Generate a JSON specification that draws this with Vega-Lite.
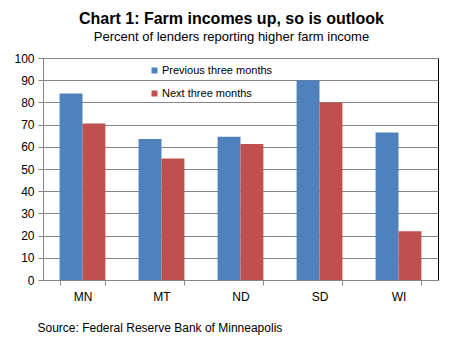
{
  "$schema": "https://vega.github.io/schema/vega-lite/v6.json",
  "width": 395,
  "height": 222,
  "autosize": {"type": "none"},
  "padding": {"left": 43, "top": 58, "right": 33, "bottom": 64},
  "background": "white",
  "title": {
    "text": "Chart 1: Farm incomes up, so is outlook",
    "subtitle": "Percent of lenders reporting higher farm income",
    "font": "Liberation Sans",
    "fontSize": 16,
    "fontWeight": "bold",
    "color": "#000000",
    "subtitleFont": "Liberation Sans",
    "subtitleFontSize": 13,
    "subtitleColor": "#000000",
    "subtitlePadding": 4,
    "anchor": "middle",
    "dx": -9,
    "offset": 8
  },
  "config": {
    "view": {"stroke": "#000000", "strokeWidth": 1},
    "font": "Liberation Sans"
  },
  "data": {
    "values": [
      {"state": "MN", "series": "Previous three months", "value": 84},
      {"state": "MN", "series": "Next three months", "value": 70.5},
      {"state": "MT", "series": "Previous three months", "value": 63.5},
      {"state": "MT", "series": "Next three months", "value": 54.7},
      {"state": "ND", "series": "Previous three months", "value": 64.5},
      {"state": "ND", "series": "Next three months", "value": 61.3},
      {"state": "SD", "series": "Previous three months", "value": 90},
      {"state": "SD", "series": "Next three months", "value": 80},
      {"state": "WI", "series": "Previous three months", "value": 66.4},
      {"state": "WI", "series": "Next three months", "value": 22}
    ]
  },
  "mark": {"type": "bar"},
  "encoding": {
    "x": {
      "field": "state",
      "type": "nominal",
      "sort": ["MN", "MT", "ND", "SD", "WI"],
      "scale": {"paddingInner": 0.42, "paddingOuter": 0.21},
      "axis": {
        "title": "Source: Federal Reserve Bank of Minneapolis",
        "titleFont": "Liberation Sans",
        "titleFontSize": 12,
        "titleFontWeight": "normal",
        "titleColor": "#000000",
        "titleAnchor": "start",
        "titleAlign": "left",
        "titleBaseline": "alphabetic",
        "titleX": -6,
        "titleY": 51,
        "labelAngle": 0,
        "labelFontSize": 12,
        "labelColor": "#000000",
        "labelPadding": 6,
        "tickBand": "extent",
        "tickSize": 5,
        "tickColor": "#868686",
        "domainColor": "#868686",
        "grid": false
      }
    },
    "xOffset": {
      "field": "series",
      "sort": ["Previous three months", "Next three months"]
    },
    "y": {
      "field": "value",
      "type": "quantitative",
      "scale": {"domain": [0, 100], "nice": false},
      "axis": {
        "title": null,
        "values": [0, 10, 20, 30, 40, 50, 60, 70, 80, 90, 100],
        "labelFontSize": 12,
        "labelColor": "#000000",
        "labelPadding": 4,
        "tickSize": 5,
        "tickColor": "#868686",
        "domainColor": "#868686",
        "gridColor": "#868686",
        "gridWidth": 1
      }
    },
    "color": {
      "field": "series",
      "type": "nominal",
      "sort": ["Previous three months", "Next three months"],
      "scale": {"range": ["#4F81BD", "#C0504D"]},
      "legend": {
        "title": null,
        "orient": "none",
        "legendX": 106,
        "legendY": 7,
        "symbolType": "square",
        "symbolSize": 36,
        "symbolOffset": 0,
        "labelOffset": 2,
        "labelFontSize": 11,
        "labelColor": "#000000",
        "rowPadding": 11
      }
    }
  }
}
